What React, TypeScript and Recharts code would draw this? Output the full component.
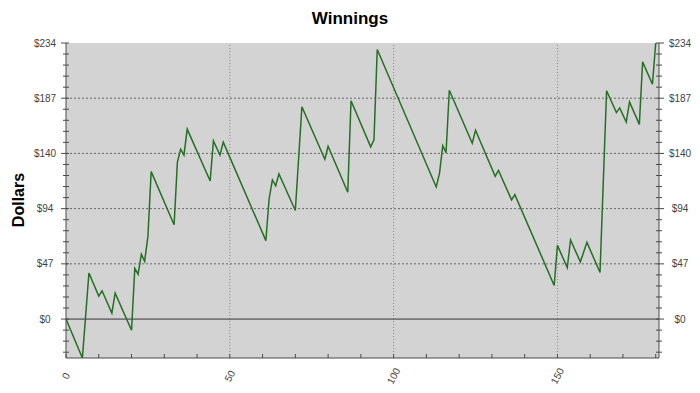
import { LineChart, Line, XAxis, YAxis, ReferenceLine, ReferenceArea } from 'recharts'

// bet number / running total at each turning point of the curve
const betIndex = [
  0, 5, 7, 10, 11, 14, 15, 20, 21, 22, 23, 24, 25, 26, 33, 34, 35, 36, 37, 44, 45, 47, 48,
  61, 62, 63, 64, 65, 70, 72, 79, 80, 86, 87, 93, 94, 95, 113, 114, 115, 116, 117, 124, 125,
  131, 132, 136, 137, 149, 150, 153, 154, 157, 159, 163, 165, 168, 169, 171, 172, 175, 176,
  179, 180,
]
const winnings = [
  0, -33, 39, 19.5, 24, 5, 22, -9.5, 43, 38, 55, 49, 70, 125, 80, 133, 144, 139, 161, 117, 151,
  139, 150, 66.5, 102, 118, 113, 123, 92, 180, 135.5, 146.5, 107.5, 185, 146, 152, 228.5, 112,
  123.5, 147, 141, 194, 149, 160, 121, 126, 101, 105.5, 28.5, 62.5, 43.5, 67, 48.5, 65, 39.5,
  193.5, 175, 179, 167, 184, 165, 218, 199, 234,
]

const yMajor = [0, 46.8, 93.6, 140.4, 187.2, 234]
const yMinor = Array.from({ length: 29 }, (_, i) => -28.08 + i * 9.36)
const xLabelled = [0, 50, 100, 150]
const xMinor = Array.from({ length: 19 }, (_, i) => i * 10)

const data = betIndex.map((x, i) => ({ x, y: winnings[i] }))

const AXIS = '#4a4a4a'
const LABEL = '#444'

const isMajor = (v: number) => Math.abs(v / 46.8 - Math.round(v / 46.8)) < 1e-6
const money = (v: number) => `$${Math.round(v)}`

const LeftTick = ({ x, y, payload }: any) => {
  const major = isMajor(payload.value)
  return (
    <g>
      <line x1={x - (major ? 5 : 3)} x2={x + 3} y1={y} y2={y} stroke={AXIS} />
      {major && (
        <text x={x - 21} y={y} dy={3.5} textAnchor="middle" fontSize={10} fill={LABEL}>
          {money(payload.value)}
        </text>
      )}
    </g>
  )
}

const RightTick = ({ x, y, payload }: any) => {
  const major = isMajor(payload.value)
  return (
    <g>
      <line x1={x - 3} x2={x + (major ? 5 : 3)} y1={y} y2={y} stroke={AXIS} />
      {major && (
        <text x={x + 21} y={y} dy={3.5} textAnchor="middle" fontSize={10} fill={LABEL}>
          {money(payload.value)}
        </text>
      )}
    </g>
  )
}

const BottomTick = ({ x, y, payload }: any) => (
  <g>
    <line x1={x} x2={x} y1={y - 4} y2={y} stroke={AXIS} />
    {xLabelled.includes(payload.value) && (
      <text
        x={x}
        y={y + 18}
        dy={3.5}
        textAnchor="middle"
        fontSize={10}
        fill={LABEL}
        transform={`rotate(-62 ${x} ${y + 18})`}
      >
        {payload.value}
      </text>
    )}
  </g>
)

const TopTick = ({ x, y }: any) => <line x1={x} x2={x} y1={y} y2={y + 4} stroke={AXIS} />

export default function App() {
  return (
    <div
      style={{
        position: 'absolute',
        left: 0,
        top: 0,
        width: 700,
        height: 393,
        background: '#fff',
        fontFamily: '"Liberation Sans", Arial, sans-serif',
      }}
    >
      <div
        style={{
          position: 'absolute',
          top: 9,
          left: 0,
          width: 700,
          textAlign: 'center',
          fontSize: 17,
          fontWeight: 'bold',
          color: '#000',
        }}
      >
        Winnings
      </div>
      <div
        style={{
          position: 'absolute',
          left: 19,
          top: 200,
          transform: 'translate(-50%, -50%) rotate(-90deg)',
          fontSize: 16,
          fontWeight: 'bold',
          color: '#000',
          whiteSpace: 'nowrap',
        }}
      >
        Dollars
      </div>
      <LineChart
        width={700}
        height={393}
        data={data}
        margin={{ top: 43, right: 0, bottom: 0, left: 0 }}
        style={{ position: 'absolute', left: 0, top: 0 }}
      >
        <XAxis
          xAxisId="b"
          type="number"
          dataKey="x"
          domain={[0, 181]}
          ticks={xMinor}
          interval={0}
          tickSize={0}
          tickMargin={0}
          tick={<BottomTick />}
          axisLine={{ stroke: AXIS }}
          height={35}
        />
        <XAxis
          xAxisId="t"
          orientation="top"
          type="number"
          dataKey="x"
          domain={[0, 181]}
          ticks={xMinor}
          interval={0}
          tickSize={0}
          tickMargin={0}
          tick={<TopTick />}
          axisLine={{ stroke: AXIS }}
          height={0}
        />
        <YAxis
          yAxisId="l"
          type="number"
          domain={[-33, 234]}
          allowDataOverflow
          ticks={yMinor}
          interval={0}
          tickSize={0}
          tickMargin={0}
          tick={<LeftTick />}
          axisLine={{ stroke: AXIS }}
          width={66}
        />
        <YAxis
          yAxisId="r"
          orientation="right"
          type="number"
          domain={[-33, 234]}
          allowDataOverflow
          ticks={yMinor}
          interval={0}
          tickSize={0}
          tickMargin={0}
          tick={<RightTick />}
          axisLine={{ stroke: AXIS }}
          width={41}
        />
        <ReferenceArea
          xAxisId="b"
          yAxisId="l"
          x1={0}
          x2={181}
          y1={-33}
          y2={234}
          fill="#d3d3d3"
          fillOpacity={1}
          stroke="none"
        />
        {xLabelled.slice(1).map((v) => (
          <ReferenceLine key={`vx${v}`} xAxisId="b" yAxisId="l" x={v} stroke="#8a8a8a" strokeDasharray="1 2" />
        ))}
        {yMajor.slice(1, 5).map((v) => (
          <ReferenceLine key={`hy${v}`} xAxisId="b" yAxisId="l" y={v} stroke="#666" strokeDasharray="2 2" />
        ))}
        <ReferenceLine xAxisId="b" yAxisId="l" y={0} stroke="#333" />
        <Line
          xAxisId="b"
          yAxisId="l"
          type="linear"
          dataKey="y"
          stroke="#256f25"
          strokeWidth={1.5}
          dot={false}
          isAnimationActive={false}
        />
      </LineChart>
    </div>
  )
}
